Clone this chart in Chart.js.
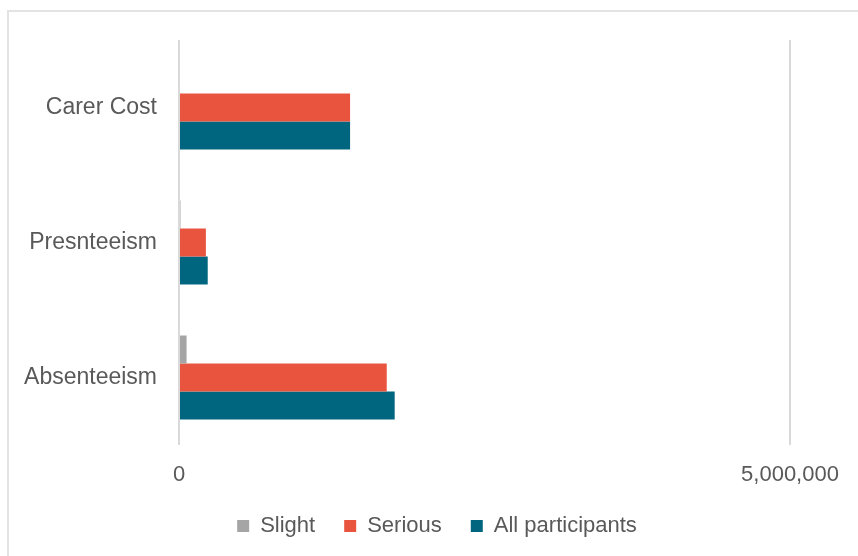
<!DOCTYPE html>
<html>
<head>
<meta charset="utf-8">
<script src="https://cdn.jsdelivr.net/npm/chart.js@4.4.0/dist/chart.umd.min.js"></script>
<style>
  html, body { margin: 0; padding: 0; background: #fff; overflow: hidden; }
  #frame {
    position: absolute; left: 7px; top: 10px; width: 900px; height: 600px;
    border: 2px solid #e3e3e3; box-sizing: border-box;
  }
  #wrap { position: absolute; left: 0; top: 0; width: 858px; height: 556px; }
</style>
</head>
<body>
<div id="frame"></div>
<div id="wrap"><canvas id="myChart"></canvas></div>
<script>
// categories and series
const categories = ["Carer Cost", "Presnteeism", "Absenteeism"];
const slight = [0, 12000, 62000];
const serious = [1400000, 220000, 1700000];
const allParticipants = [1400000, 235000, 1765000];
const xTicks = [0, 5000000];

const COLORS = {
  grey: "#a5a5a5",
  red: "#e9543f",
  teal: "#00657e",
};

Chart.defaults.font.family = "'Liberation Sans', Arial, sans-serif";
Chart.defaults.font.size = 22;
Chart.defaults.color = "#595959";

let myChart = document.getElementById("myChart");

// legend sits a bit right of the canvas centre in the original
const shiftLegend = {
  id: "shiftLegend",
  afterLayout: (chart) => {
    chart.legend.left += 42;
    chart.legend.right += 42;
  },
};

const config = {
  type: "bar",
  data: {
    labels: categories,
    datasets: [
      { label: "Slight", data: slight, backgroundColor: COLORS.grey },
      { label: "Serious", data: serious, backgroundColor: COLORS.red },
      { label: "All participants", data: allParticipants, backgroundColor: COLORS.teal },
    ],
  },
  options: {
    indexAxis: "y",
    responsive: true,
    maintainAspectRatio: false,
    animation: false,
    datasets: {
      bar: { categoryPercentage: 0.622, barPercentage: 1.0 },
    },
    layout: {
      padding: { left: 0, right: 68, top: 40, bottom: 9 },
    },
    plugins: {
      legend: {
        position: "bottom",
        labels: {
          boxWidth: 12,
          boxHeight: 12,
          padding: 29,
          font: { size: 22 },
        },
      },
      tooltip: { enabled: true },
    },
    scales: {
      x: {
        min: 0,
        max: 5000000,
        afterBuildTicks: (axis) => {
          axis.ticks = xTicks.map((v) => ({ value: v }));
        },
        afterFit: (axis) => {
          axis.height = 41;
        },
        ticks: {
          padding: 17,
          maxRotation: 0,
          callback: (v) => v.toLocaleString("en-US"),
        },
        grid: { color: "#d9d9d9", lineWidth: 2, drawTicks: false },
        border: { display: false },
      },
      y: {
        afterFit: (axis) => {
          axis.width = 179;
        },
        ticks: { padding: 22, font: { size: 23 } },
        grid: { display: false, drawTicks: false },
        border: { display: false },
      },
    },
  },
  plugins: [shiftLegend],
};

let new_chart = new Chart(myChart.getContext("2d"), config);
</script>
</body>
</html>
